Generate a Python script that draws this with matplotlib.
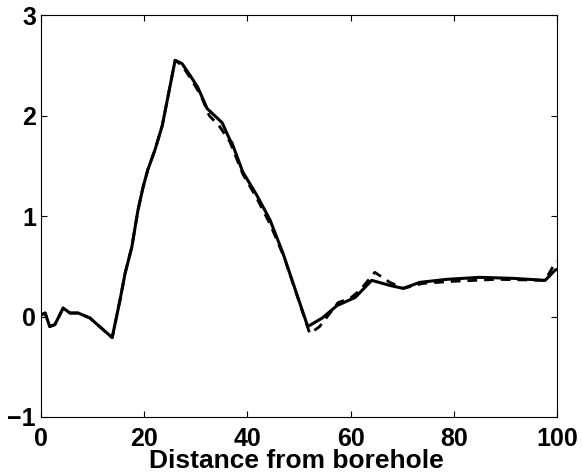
import matplotlib
matplotlib.use("Agg")
import matplotlib.pyplot as plt

# solid curve
x_solid = [0, 0.8, 1.7, 2.7, 4.3, 5.6, 7.2, 9.5, 13.8, 15.3, 16.3, 17.6, 18.8, 19.8,
           20.7, 22.1, 23.5, 26.0, 27.3, 28.9, 30.4, 32.2, 35.1, 36.6, 37.0, 39.1,
           41.8, 44.4, 46.9, 51.7, 54.5, 57.4, 60.9, 64.1, 67.6, 70.2, 73.4, 78.6,
           85.0, 91.5, 97.7, 99.6, 100]
y_solid = [0.015, 0.035, -0.10, -0.08, 0.085, 0.035, 0.035, -0.015, -0.21, 0.16,
           0.43, 0.69, 1.06, 1.29, 1.46, 1.66, 1.90, 2.55, 2.52, 2.40, 2.28, 2.07,
           1.93, 1.76, 1.73, 1.44, 1.21, 0.96, 0.63, -0.10, -0.015, 0.11, 0.19,
           0.36, 0.31, 0.28, 0.34, 0.37, 0.39, 0.38, 0.36, 0.46, 0.47]

# dashed curve
x_dash = [0, 0.8, 1.7, 2.7, 4.3, 5.6, 7.2, 9.5, 13.8, 15.3, 16.3, 17.6, 18.8, 19.8,
          20.7, 22.1, 23.5, 26.0, 27.3, 28.9, 31.0, 32.6, 34.5, 36.6, 39.1,
          41.8, 44.4, 47.2, 52.1, 54.0, 57.6, 59.9, 61.8, 64.7, 67.6, 70.2, 74.0,
          79.8, 88.3, 97.7, 99.6, 100]
y_dash = [0.015, 0.035, -0.10, -0.08, 0.085, 0.035, 0.035, -0.015, -0.21, 0.16,
          0.43, 0.69, 1.06, 1.29, 1.46, 1.66, 1.90, 2.55, 2.50, 2.38, 2.20, 2.00,
          1.90, 1.74, 1.42, 1.18, 0.92, 0.58, -0.17, -0.10, 0.14, 0.18, 0.26,
          0.44, 0.34, 0.28, 0.33, 0.35, 0.37, 0.36, 0.53, 0.55]

x_ticks = [0, 20, 40, 60, 80, 100]
y_ticks = [-1, 0, 1, 2, 3]

plt.rcParams['font.family'] = ['Liberation Sans', 'DejaVu Sans']
plt.rcParams['font.weight'] = 'bold'

fig = plt.figure(figsize=(5.82, 4.73), dpi=100)
ax = fig.add_axes([0.0704, 0.1184, 0.8866, 0.8496])

ax.plot(x_dash, y_dash, color='black', lw=2.0, ls=(0, (3.5, 2.5)))
ax.plot(x_solid, y_solid, color='black', lw=2.2)

ax.set_xlim(0, 100)
ax.set_ylim(-1, 3)
ax.set_xticks(x_ticks)
ax.set_yticks(y_ticks)
ax.tick_params(direction='in', length=4, width=0.8, top=True, right=True,
               labelsize=18)
ax.tick_params(axis='x', pad=7.5)
ax.tick_params(axis='y', pad=3.5)
for s in ax.spines.values():
    s.set_linewidth(0.8)

# x label sits right at the bottom edge, as in the original
fig.text(0.509, 0.0, 'Distance from borehole', fontsize=19, fontweight='bold',
         ha='center', va='bottom')

plt.savefig('out.png', dpi=100)
